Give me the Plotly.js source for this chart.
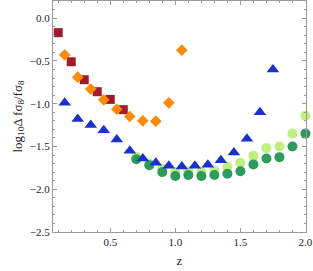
<!DOCTYPE html>
<html>
<head>
<meta charset="utf-8">
<script src="https://cdn.plot.ly/plotly-3.0.1.min.js"></script>
<style>html,body{margin:0;padding:0;background:#fff;}#chart{width:313px;height:271px;}</style>
</head>
<body>
<div id="chart"></div>
<script>
const zSquares = [0.1, 0.2, 0.3, 0.4, 0.5, 0.6];
const vSquares = [-0.17, -0.51, -0.72, -0.86, -0.95, -1.07];

const zDiamonds = [0.15, 0.25, 0.35, 0.45, 0.55, 0.65, 0.75, 0.85, 0.95, 1.05];
const vDiamonds = [-0.43, -0.69, -0.83, -0.955, -1.065, -1.15, -1.20, -1.205, -0.99, -0.375];

const zTriangles = [0.15, 0.25, 0.35, 0.45, 0.55, 0.65, 0.75, 0.85, 0.95, 1.05, 1.15, 1.25, 1.35, 1.45, 1.55, 1.65, 1.75];
const vTriangles = [-0.99, -1.18, -1.25, -1.31, -1.42, -1.55, -1.64, -1.69, -1.725, -1.735, -1.725, -1.715, -1.66, -1.57, -1.41, -1.10, -0.60];

const zLight = [0.7, 0.8, 0.9, 1.0, 1.1, 1.2, 1.3, 1.4, 1.5, 1.6, 1.7, 1.8, 1.9, 2.0];
const vLight = [-1.62, -1.70, -1.76, -1.80, -1.79, -1.80, -1.78, -1.74, -1.69, -1.61, -1.52, -1.50, -1.35, -1.14];

const zDark = [0.7, 0.8, 0.9, 1.0, 1.1, 1.2, 1.3, 1.4, 1.5, 1.6, 1.7, 1.8, 1.9, 2.0];
const vDark = [-1.65, -1.72, -1.80, -1.845, -1.834, -1.845, -1.834, -1.82, -1.79, -1.71, -1.64, -1.625, -1.50, -1.35];

const xTickVals = [0.5, 1.0, 1.5, 2.0];
const xTickText = ['0.5', '1.0', '1.5', '2.0'];
const yTickVals = [0.0, -0.5, -1.0, -1.5, -2.0, -2.5];
const yTickText = ['0.0', '\u22120.5', '\u22121.0', '\u22121.5', '\u22122.0', '\u22122.5'];

const serif = "'Liberation Serif', 'Times New Roman', serif";

const traces = [
  {x: zLight, y: vLight, mode: 'markers', type: 'scatter', cliponaxis: false,
   marker: {symbol: 'circle', size: 10, color: '#BFEF7E', line: {width: 0}}},
  {x: zDark, y: vDark, mode: 'markers', type: 'scatter', cliponaxis: false,
   marker: {symbol: 'circle', size: 10, color: '#2E9A5C', line: {width: 0}}},
  {x: zSquares, y: vSquares, mode: 'markers', type: 'scatter', cliponaxis: false,
   marker: {symbol: 'square', size: 9, color: '#A01B2C', line: {width: 0}}},
  {x: zDiamonds, y: vDiamonds, mode: 'markers', type: 'scatter', cliponaxis: false,
   marker: {symbol: 'diamond', size: 9, color: '#FA8A0A', line: {width: 0}}},
  {x: zTriangles, y: vTriangles, mode: 'markers', type: 'scatter', cliponaxis: false,
   marker: {symbol: 'triangle-up', size: 11, color: '#1C30CC', line: {width: 0}}}
];

const axisCommon = {
  showgrid: false, zeroline: false, showline: true, linecolor: '#9a9a9a', linewidth: 1,
  mirror: 'allticks', ticks: 'inside', ticklen: 4, tickcolor: '#9a9a9a', tickwidth: 1,
  tickfont: {family: serif, size: 11, color: '#222'}
};

const layout = {
  width: 313, height: 271,
  margin: {l: 53, r: 7, t: 1, b: 39},
  paper_bgcolor: '#fff', plot_bgcolor: '#fff',
  showlegend: false,
  xaxis: Object.assign({}, axisCommon, {
    range: [0.06, 2.004], tickmode: 'array', tickvals: xTickVals, ticktext: xTickText,
    minor: {ticks: 'inside', ticklen: 2, tickcolor: '#9a9a9a', dtick: 0.1, tick0: 0},
    title: {text: 'z', font: {family: serif, size: 13, color: '#222'}, standoff: 8}
  }),
  yaxis: Object.assign({}, axisCommon, {
    range: [-2.5, 0.2], tickmode: 'array', tickvals: yTickVals, ticktext: yTickText,
    minor: {ticks: 'inside', ticklen: 2, tickcolor: '#9a9a9a', dtick: 0.1, tick0: 0},
    title: {text: 'log<sub>10</sub>Δ fσ<sub>8</sub>/fσ<sub>8</sub>', font: {family: serif, size: 13, color: '#222'}, standoff: 4}
  })
};

Plotly.newPlot('chart', traces, layout, {displayModeBar: false, staticPlot: true});
</script>
</body>
</html>
